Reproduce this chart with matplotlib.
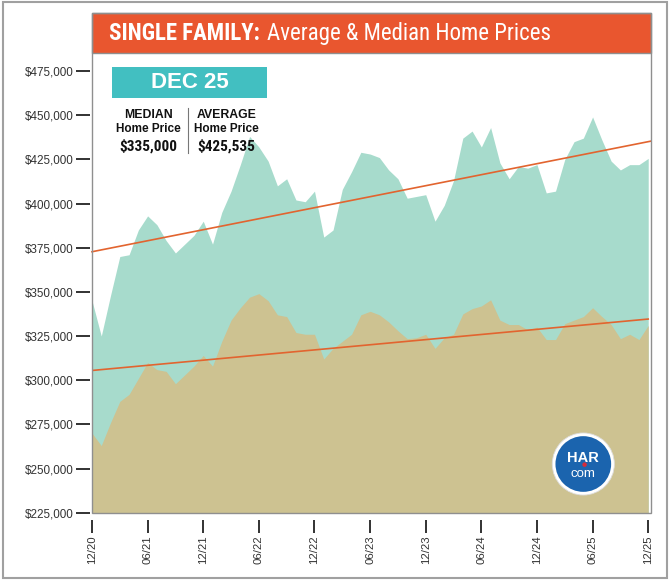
import matplotlib
matplotlib.use('Agg')
import matplotlib.pyplot as plt
import numpy as np
from matplotlib.patches import Rectangle, Circle
from matplotlib.text import Annotation
from matplotlib import font_manager

# ---------------- data ----------------
months = list(range(61))  # 12/20 .. 12/25
avg_price = [345000, 325000, 348000, 370000, 371000, 385000, 393000, 388000, 379000, 372000,
             377000, 382000, 390000, 377000, 395000, 407000, 422000, 438000, 432000, 424000,
             410000, 414000, 402000, 401000, 407000, 381000, 385000, 408000, 418000, 429000,
             428000, 426000, 419000, 414000, 403000, 404000, 405000, 390000, 399000, 413000,
             437000, 441000, 432000, 443000, 423000, 414000, 421000, 420000, 422000, 406000,
             407000, 425000, 435000, 437000, 449000, 436000, 424000, 419000, 422000, 422000,
             425535]
median_price = [270000, 263000, 276000, 288000, 292000, 301000, 310000, 306000, 305000, 298000,
                303000, 308000, 314000, 308000, 322000, 334000, 341000, 347000, 349000, 345000,
                337000, 336000, 327000, 326000, 326000, 312000, 318000, 322000, 326000, 337000,
                339000, 337000, 333000, 328000, 323500, 324000, 326000, 318000, 324000, 326000,
                337500, 340500, 342000, 345500, 334000, 331500, 331500, 328500, 330000, 323000,
                323000, 332000, 334000, 336000, 341000, 336000, 331500, 323500, 326000, 323000,
                331000]
trend_months = [0, 60]
avg_trend = [372700, 435000]
median_trend = [305500, 334600]
xtick_months = [0, 6, 12, 18, 24, 30, 36, 42, 48, 54, 60]
xtick_labels = ['12/20', '06/21', '12/21', '06/22', '12/22', '06/23', '12/23',
                '06/24', '12/24', '06/25', '12/25']
ytick_values = [225000, 250000, 275000, 300000, 325000, 350000, 375000, 400000,
                425000, 450000, 475000]
ytick_labels = ['$225,000', '$250,000', '$275,000', '$300,000', '$325,000', '$350,000',
                '$375,000', '$400,000', '$425,000', '$450,000', '$475,000']
title_bold = 'SINGLE FAMILY:'
title_rest = 'Average & Median Home Prices'
period = 'DEC 25'
median_label = ['MEDIAN', 'Home Price', '$335,000']
average_label = ['AVERAGE', 'Home Price', '$425,535']

# ---------------- fonts ----------------
names = {f.name for f in font_manager.fontManager.ttflist}
narrow = None
for cand in ['Liberation Sans Narrow', 'Roboto Condensed', 'Open Sans Condensed', 'Arial Narrow']:
    if cand in names:
        narrow = cand
        break
narrow_stretch = 'normal'
if narrow is None:
    cond = [f for f in font_manager.fontManager.ttflist
            if f.name == 'DejaVu Sans' and 'ondensed' in str(f.stretch)]
    if cond:
        narrow = 'DejaVu Sans'
        narrow_stretch = 'condensed'
    else:
        narrow = 'Liberation Sans'
SANS = 'Liberation Sans'

W, H = 672, 583
fig = plt.figure(figsize=(W / 100, H / 100), dpi=100)


def fx(px):
    return px / W


def fy(py):
    return 1 - py / H


TEAL = '#a7dbcc'
TAN = '#cdc291'
ORANGE_LINE = '#e2642f'
TITLE_ORANGE = '#e9562f'
DEC_TEAL = '#42bfc1'
FRAME = '#8f8f8f'

# outer border
fig.add_artist(Rectangle((fx(3), fy(578)), fx(667) - fx(3), fy(2) - fy(578),
                         transform=fig.transFigure, fill=False, edgecolor='#a0a0a0',
                         linewidth=1.5, zorder=0))

left, right, top, bottom = 92, 651, 53, 512.7
ax = fig.add_axes([fx(left), fy(bottom), fx(right) - fx(left), fy(top) - fy(bottom)])
ymax = 225000 + (bottom - top) / 44.17 * 25000
ax.set_ylim(225000, ymax)
ax.set_xlim(0, 60.3)

ax.fill_between(months, 225000, avg_price, color=TEAL, linewidth=0, zorder=1)
ax.fill_between(months, 225000, median_price, color=TAN, linewidth=0, zorder=2)
ax.plot([0, 60.3], np.polyval(np.polyfit(trend_months, avg_trend, 1), [0, 60.3]),
        color=ORANGE_LINE, linewidth=1.2, zorder=3, clip_on=False)
ax.plot(trend_months, median_trend, color=ORANGE_LINE, linewidth=1.2, zorder=3)

for s in ax.spines.values():
    s.set_visible(False)
ax.spines['left'].set_position(('outward', 1.5))
ax.spines['bottom'].set_position(('outward', 5))

ax.set_yticks(ytick_values)
ax.set_yticklabels(ytick_labels)
ax.set_xticks(xtick_months)
ax.set_xticklabels(xtick_labels, rotation=90)
ax.tick_params(axis='y', direction='out', length=10, width=1.3, color='#222222',
               labelsize=8.4, labelcolor='#333333', pad=2)
ax.tick_params(axis='x', direction='out', length=9.5, width=1.3, color='#222222',
               labelsize=8.2, labelcolor='#333333', pad=2)
for lab in ax.get_xticklabels() + ax.get_yticklabels():
    lab.set_family(SANS)

# panel frame
fig.add_artist(Rectangle((fx(left), fy(bottom)), fx(right) - fx(left), fy(13) - fy(bottom),
                         transform=fig.transFigure, fill=False, edgecolor=FRAME,
                         linewidth=1.0, zorder=6))
# title bar
fig.add_artist(Rectangle((fx(left), fy(top)), fx(right) - fx(left), fy(13) - fy(top),
                         transform=fig.transFigure, facecolor=TITLE_ORANGE,
                         edgecolor=FRAME, linewidth=1.0, zorder=5))
t1 = fig.text(fx(109), fy(45), title_bold, color='white', fontsize=16.5, fontweight='bold',
              family=narrow, fontstretch=narrow_stretch, va='bottom', ha='left', zorder=7)
t2 = Annotation(title_rest, xy=(1, 0), xycoords=t1, xytext=(5, 0), textcoords='offset points',
                color='white', fontsize=16.5, family=narrow, fontstretch=narrow_stretch,
                va='bottom', ha='left', zorder=7, annotation_clip=False)
fig.add_artist(t2)

# DEC box
fig.add_artist(Rectangle((fx(112.5), fy(97.5)), fx(266.5) - fx(112.5), fy(67.3) - fy(97.5),
                         transform=fig.transFigure, facecolor=DEC_TEAL, edgecolor='none',
                         zorder=7))
fig.text(fx(189.5), fy(82.5), period, color='white', fontsize=16, fontweight='bold',
         family=SANS, ha='center', va='center', zorder=8)

for cx, labs in [(148.5, median_label), (226.7, average_label)]:
    fig.text(fx(cx), fy(115), labs[0], fontsize=8.8, fontweight='bold', family=SANS,
             color='#111111', ha='center', va='center', zorder=8)
    fig.text(fx(cx), fy(128.5), labs[1], fontsize=8.5, fontweight='bold', family=SANS,
             color='#111111', ha='center', va='center', zorder=8)
    fig.text(fx(cx), fy(146), labs[2], fontsize=11, fontweight='bold', family=narrow,
             fontstretch=narrow_stretch, color='#111111', ha='center', va='center', zorder=8)
fig.add_artist(plt.Line2D([fx(187.7), fx(187.7)], [fy(108), fy(153)],
                          transform=fig.transFigure, color='#777777', linewidth=0.8, zorder=8))

# HAR logo
size = 64
lax = fig.add_axes([fx(583.3 - size / 2), fy(464 + size / 2), size / W, size / H], zorder=9)
lax.set_xlim(-1, 1)
lax.set_ylim(-1, 1)
lax.axis('off')
lax.add_patch(Circle((0, 0), 0.97, facecolor='white', edgecolor='#dddddd', linewidth=0.6))
lax.add_patch(Circle((0, 0), 0.87, facecolor='#1b64ae', edgecolor='none'))
lax.text(0, 0.2, 'HAR', color='white', fontsize=10.5, fontweight='bold', family=SANS,
         ha='center', va='center')
lax.text(0, -0.32, 'com', color='white', fontsize=9.5, family=SANS, ha='center', va='center')
lax.add_patch(Circle((0.04, -0.02), 0.07, facecolor='#d62b3a', edgecolor='none'))

fig.savefig('out.png', dpi=100)
